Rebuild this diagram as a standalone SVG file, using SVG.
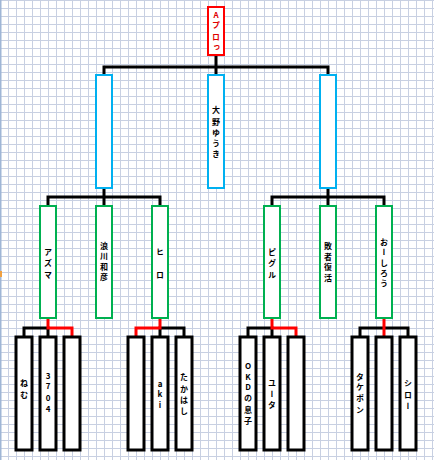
<svg xmlns="http://www.w3.org/2000/svg" width="434" height="460" viewBox="0 0 434 460">
<style>
.t{font-family:"Noto Sans CJK JP","DejaVu Sans",sans-serif;font-size:8px;font-weight:bold;fill:#000;text-anchor:middle;dominant-baseline:central;writing-mode:vertical-rl;text-orientation:upright}
.tr{fill:#e00000}
.top{fill:#fff;stroke:#ff0000;stroke-width:2}
.blue{fill:#fff;stroke:#00b0f0;stroke-width:2}
.green{fill:#fff;stroke:#00b050;stroke-width:2}
.leaf{fill:#fff;stroke:#000;stroke-width:3}
.cb{fill:none;stroke:#000;stroke-width:3;stroke-linecap:square;stroke-linejoin:miter}
.cr{fill:none;stroke:#ff0000;stroke-width:3;stroke-linecap:square;stroke-linejoin:miter}
</style>
<defs>
<pattern id="grid" width="8" height="8" patternUnits="userSpaceOnUse">
<rect width="8" height="8" fill="#fff"/>
<path d="M0.5 0V8M0 0.5H8" stroke="#c8d0e2" stroke-width="1"/>
</pattern>
</defs>
<rect width="434" height="460" fill="url(#grid)"/>
<rect x="0" y="0" width="1.5" height="460" fill="#9fb6d6"/>
<rect x="0" y="271" width="2" height="6" fill="#f0a040"/>

<g id="connectors">
<path class="cb" d="M216 56V67M104 67H328M104 67V74M216 67V74M328 67V74"/>
<path class="cb" d="M104 189V197M48 197H160M48 197V205M104 197V205M160 197V205"/>
<path class="cb" d="M328 189V197M272 197H384M272 197V205M328 197V205M384 197V205"/>
<path class="cb" d="M48 328H24V336M48 328V336"/>
<path class="cb" d="M160 328H184V336M160 328V336"/>
<path class="cb" d="M272 328H248V336M272 328V336"/>
<path class="cb" d="M360 336V328H408V336"/>
<path class="cr" d="M48 320V328H72V336"/>
<path class="cr" d="M160 320V328H136V336"/>
<path class="cr" d="M272 320V328H296V336"/>
<path class="cr" d="M384 320V336"/>
</g>

<g id="n-top"><rect class="top" x="208" y="7" width="16" height="48"/>
<text class="t tr"><tspan x="216" y="15">A</tspan><tspan x="216" y="25">プ</tspan><tspan x="216" y="37">ロ</tspan><tspan x="216" y="47">っ</tspan></text></g>

<g id="n-b1"><rect class="blue" x="96" y="75" width="16" height="113"/></g>
<g id="n-b2"><rect class="blue" x="208" y="75" width="16" height="113"/>
<text class="t"><tspan x="216" y="110">大</tspan><tspan x="216" y="122">野</tspan><tspan x="216" y="133">ゆ</tspan><tspan x="216" y="143">う</tspan><tspan x="216" y="154">き</tspan></text></g>
<g id="n-b3"><rect class="blue" x="320" y="75" width="16" height="113"/></g>

<g id="n-g1"><rect class="green" x="40" y="206" width="16" height="112"/>
<text class="t"><tspan x="48" y="252">ア</tspan><tspan x="48" y="263">ズ</tspan><tspan x="48" y="275">マ</tspan></text></g>
<g id="n-g2"><rect class="green" x="96" y="206" width="16" height="112"/>
<text class="t"><tspan x="104" y="246">浪</tspan><tspan x="104" y="256">川</tspan><tspan x="104" y="267">和</tspan><tspan x="104" y="277">彦</tspan></text></g>
<g id="n-g3"><rect class="green" x="152" y="206" width="16" height="112"/>
<text class="t"><tspan x="160" y="252">ヒ</tspan><tspan x="160" y="275">ロ</tspan></text></g>
<g id="n-g4"><rect class="green" x="264" y="206" width="16" height="112"/>
<text class="t"><tspan x="272" y="252">ピ</tspan><tspan x="272" y="263">グ</tspan><tspan x="272" y="275">ル</tspan></text></g>
<g id="n-g5"><rect class="green" x="320" y="206" width="16" height="112"/>
<text class="t"><tspan x="328" y="246">敗</tspan><tspan x="328" y="257">者</tspan><tspan x="328" y="267">復</tspan><tspan x="328" y="278">活</tspan></text></g>
<g id="n-g6"><rect class="green" x="376" y="206" width="16" height="112"/>
<text class="t"><tspan x="384" y="242">お</tspan><tspan x="384" y="252">ー</tspan><tspan x="384" y="263">し</tspan><tspan x="384" y="273">ろ</tspan><tspan x="384" y="283">う</tspan></text></g>

<g id="n-l1"><rect class="leaf" x="16" y="337" width="16" height="113"/>
<text class="t"><tspan x="24" y="383">ね</tspan><tspan x="24" y="395">む</tspan></text></g>
<g id="n-l2"><rect class="leaf" x="40" y="337" width="16" height="113"/>
<text class="t"><tspan x="48" y="376">3</tspan><tspan x="48" y="386">7</tspan><tspan x="48" y="398">0</tspan><tspan x="48" y="409">4</tspan></text></g>
<g id="n-l3"><rect class="leaf" x="64" y="337" width="16" height="113"/></g>
<g id="n-l4"><rect class="leaf" x="128" y="337" width="16" height="113"/></g>
<g id="n-l5"><rect class="leaf" x="152" y="337" width="16" height="113"/>
<text class="t"><tspan x="160" y="384">a</tspan><tspan x="160" y="394">k</tspan><tspan x="160" y="405">i</tspan></text></g>
<g id="n-l6"><rect class="leaf" x="176" y="337" width="16" height="113"/>
<text class="t"><tspan x="184" y="377">た</tspan><tspan x="184" y="389">か</tspan><tspan x="184" y="400">は</tspan><tspan x="184" y="411">し</tspan></text></g>
<g id="n-l7"><rect class="leaf" x="240" y="337" width="16" height="113"/>
<text class="t"><tspan x="248" y="366">O</tspan><tspan x="248" y="377">K</tspan><tspan x="248" y="387">D</tspan><tspan x="248" y="398">の</tspan><tspan x="248" y="410">息</tspan><tspan x="248" y="421">子</tspan></text></g>
<g id="n-l8"><rect class="leaf" x="264" y="337" width="16" height="113"/>
<text class="t"><tspan x="272" y="383">ユ</tspan><tspan x="272" y="394">ー</tspan><tspan x="272" y="405">タ</tspan></text></g>
<g id="n-l9"><rect class="leaf" x="288" y="337" width="16" height="113"/></g>
<g id="n-l10"><rect class="leaf" x="352" y="337" width="16" height="113"/>
<text class="t"><tspan x="360" y="377">タ</tspan><tspan x="360" y="387">ケ</tspan><tspan x="360" y="398">ポ</tspan><tspan x="360" y="410">ン</tspan></text></g>
<g id="n-l11"><rect class="leaf" x="376" y="337" width="16" height="113"/></g>
<g id="n-l12"><rect class="leaf" x="400" y="337" width="16" height="113"/>
<text class="t"><tspan x="408" y="383">シ</tspan><tspan x="408" y="395">ロ</tspan><tspan x="408" y="406">ー</tspan></text></g>
</svg>
